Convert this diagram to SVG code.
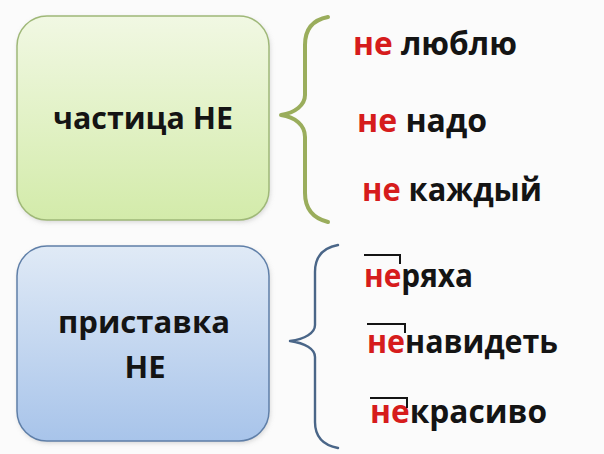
<svg xmlns="http://www.w3.org/2000/svg" width="604" height="454" viewBox="0 0 604 454">
<style>
.lbl{font-family:"Open Sans","Noto Sans","Liberation Sans",sans-serif;font-weight:bold;fill:#141414}
.w{font-family:"Open Sans","Noto Sans","Liberation Sans",sans-serif;font-weight:bold;fill:#141414;font-size:32px}
.r{fill:#d61c1c}
.brace{fill:none;stroke-linecap:round;stroke-linejoin:round}
.ov{fill:none;stroke:#141414;stroke-width:2}
</style>
<defs>
<linearGradient id="gG" x1="0" y1="0" x2="0" y2="1">
<stop offset="0" stop-color="#f1f8e3"/>
<stop offset="1" stop-color="#d3ebaa"/>
</linearGradient>
<linearGradient id="gB" x1="0" y1="0" x2="0" y2="1">
<stop offset="0" stop-color="#e0eaf6"/>
<stop offset="1" stop-color="#a8c4ea"/>
</linearGradient>
<filter id="sh" x="-10%" y="-10%" width="120%" height="120%">
<feGaussianBlur stdDeviation="2.5"/>
</filter>
</defs>
<rect width="604" height="454" fill="#fbfbfb"/>
<g id="node-particle">
<rect x="18" y="18" width="252" height="204" rx="30" fill="#b8b8b8" opacity="0.6" filter="url(#sh)"/>
<rect x="17" y="16" width="252" height="204" rx="30" fill="url(#gG)" stroke="#9fb878" stroke-width="1.5"/>
<text class="lbl" x="143" y="129" font-size="30" text-anchor="middle" textLength="180" lengthAdjust="spacingAndGlyphs">частица НЕ</text>
</g>
<g id="node-prefix">
<rect x="18" y="248" width="252" height="195" rx="30" fill="#b8b8b8" opacity="0.6" filter="url(#sh)"/>
<rect x="17" y="246" width="252" height="195" rx="30" fill="url(#gB)" stroke="#5f7fa8" stroke-width="1.5"/>
<text class="lbl" x="144" y="333" font-size="31" text-anchor="middle" textLength="172" lengthAdjust="spacingAndGlyphs">приставка</text>
<text class="lbl" x="145" y="378" font-size="31" text-anchor="middle">НЕ</text>
</g>
<g id="connectors">
<path class="brace" stroke="#9aad5c" stroke-width="4" d="M328,17 C312,20 305,30 305,45 L305,95 C305,105 295,113 281,115 C295,117 305,125 305,137 L305,193 C305,208 312,218 328,222"/>
<path class="brace" stroke="#4a6688" stroke-width="2.4" d="M338,245 C322,248 315,258 315,272 L315,325 C315,333 305,339 290,341 C305,343 315,349 315,357 L315,422 C315,436 322,445 338,448"/>
</g>
<g id="w1"><text class="w" x="353" y="55" textLength="164" lengthAdjust="spacingAndGlyphs"><tspan class="r">не</tspan> люблю</text></g>
<g id="w2"><text class="w" x="357" y="132" textLength="130" lengthAdjust="spacingAndGlyphs"><tspan class="r">не</tspan> надо</text></g>
<g id="w3"><text class="w" x="362" y="201" textLength="180" lengthAdjust="spacingAndGlyphs"><tspan class="r">не</tspan> каждый</text></g>
<g id="w4"><text class="w" x="364" y="287" textLength="109" lengthAdjust="spacingAndGlyphs"><tspan class="r">не</tspan>ряха</text>
<path class="ov" d="M364,255 H400 V264"/></g>
<g id="w5"><text class="w" x="367" y="353" textLength="191" lengthAdjust="spacingAndGlyphs"><tspan class="r">не</tspan>навидеть</text>
<path class="ov" d="M367,324 H405 V333"/></g>
<g id="w6"><text class="w" x="370" y="423" textLength="177" lengthAdjust="spacingAndGlyphs"><tspan class="r">не</tspan>красиво</text>
<path class="ov" d="M370,398 H407 V408"/></g>
</svg>
